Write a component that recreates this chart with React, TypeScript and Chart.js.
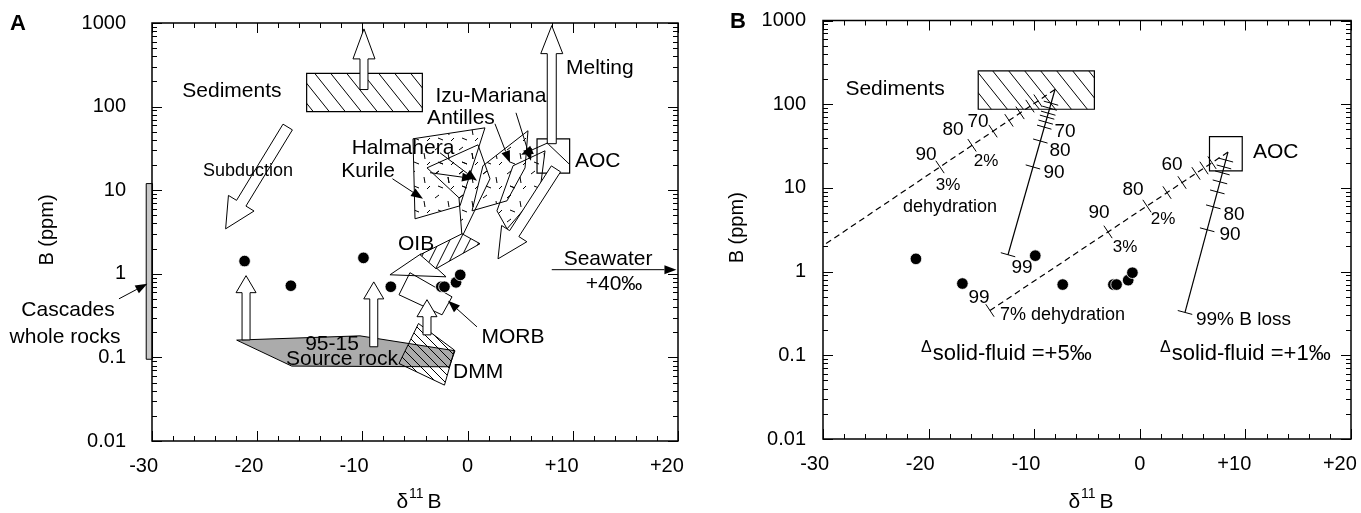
import React, { useEffect, useRef } from 'react';
import { Chart, registerables } from 'chart.js';

Chart.register(...registerables);

const FONT = '"Liberation Sans", Arial, Helvetica, sans-serif';

// ---------- axes ----------
const X_MIN = -30;
const X_MAX = 20;
const X_STEP = 2;
const xMajorTicks = [-30, -20, -10, 0, 10, 20];
// trailing spaces shift the signed labels left of their tick, as in the original
const xTickLabels = ['-30   ', '-20   ', '-10   ', '0', '+10    ', '+20    '];
const Y_MIN = 0.01;
const Y_MAX = 1000;
const yMajorTicks = [0.01, 0.1, 1, 10, 100, 1000];
const yTickLabels = ['0.01', '0.1', '1', '10', '100', '1000'];

// ---------- arc lavas (both panels) ----------
const sampleD11B = [-21.2, -16.8, -9.9, -7.3, -2.5, -2.2, -1.1, -0.7];
const sampleB = [1.42, 0.72, 1.55, 0.7, 0.7, 0.7, 0.79, 0.97];

// ---------- reservoirs ----------
const sedimentsX = [-15.3, -4.3];
const sedimentsY = [87, 250];
const aocX = [6.6, 9.7];
const aocY = [16, 41];
const cascadesX = [-30.55, -29.95];
const cascadesY = [0.095, 12];

// ---------- panel A fields ----------
const sourceRockX = [-21.95, -10.23, -1.2, -1.74, -16.72];
const sourceRockY = [0.161, 0.181, 0.12, 0.0772, 0.0787];
const dmmX = [-4.67, -1.25, -2.2, -6.52];
const dmmY = [0.2545, 0.1222, 0.0466, 0.0845];
const morbX = [-5.48, -1.48, -2.43, -6.52];
const morbY = [1.03, 0.53, 0.323, 0.561];
const oibX = [-4.52, -0.53, 1.18, -3.0];
const oibY = [1.69, 3.01, 2.29, 1.15];
const oibOutlineX = [-7.38, -4.43, -2.05];
const oibOutlineY = [0.973, 1.735, 0.92];
const kurileX = [-5.19, 1.65, -0.72, -5.0];
const kurileY = [41.2, 55.7, 6.51, 4.55];
const halmaheraX = [-3.86, 0.99, 2.13, -0.53, -0.82];
const halmaheraY = [18.5, 34.9, 13.7, 2.77, 8.11];
const antillesX = [1.46, 5.74, 5.46, 3.75, 0.42];
const antillesY = [19.6, 51.4, 18.5, 7.47, 5.67];
const izuX = [2.79, 4.32, 7.36, 6.88, 3.75];
const izuY = [5.67, 19.6, 29.6, 9.84, 3.45];
const aocLineX = [7.67, 9.67];
const aocLineY = [35.6, 20.5];

// open arrows [x0, y0, x1, y1]
const openArrowsA = [
  [-9.85, 160, -9.85, 850],
  [8.0, 36, 8.0, 930],
  [-17.1, 57, -23.0, 3.45],
  [8.4, 18, 2.89, 1.51],
  [-21.06, 0.162, -21.06, 0.95],
  [-8.92, 0.134, -8.92, 0.8],
  [-3.86, 0.186, -3.86, 0.49],
];
// [shaft width, head width, head length] in px
const openArrowShapeA = [
  [8, 22, 30],
  [9, 22, 28],
  [11, 30, 30],
  [11, 30, 30],
  [8, 20, 17],
  [8, 20, 17],
  [8, 20, 17],
];
// pointer arrows [x0, y0, x1, y1]
const pointerArrowsA = [
  [-7.14, 13.7, -4.24, 7.89],
  [-2.62, 28.0, 0.89, 13.0],
  [-3.57, 16.2, 0.61, 13.7],
  [2.6, 62.3, 4.03, 21.3],
  [4.6, 84.3, 6.03, 22.5],
  [7.64, 36.9, 5.08, 26.5],
  [0.89, 0.232, -1.86, 0.475],
  [-33.14, 0.502, -30.44, 0.76],
  [8.0, 1.12, 19.85, 1.12],
];
// labels [text, x, y, align]
const labelsA: [string, number, number, string][] = [
  ['Sediments', -22.4, 154.5, 'center'],
  ['Melting', 9.35, 291, 'left'],
  ['Izu-Mariana', 2.22, 134.6, 'center'],
  ['Antilles', -0.63, 73.5, 'center'],
  ['Halmahera', -6.14, 32.2, 'center'],
  ['Kurile', -9.47, 17.1, 'center'],
  ['AOC', 10.21, 22.5, 'left'],
  ['OIB', -4.9, 2.29, 'center'],
  ['Seawater', 13.35, 1.51, 'center'],
  ['+40‰', 13.92, 0.759, 'center'],
  ['MORB', 4.32, 0.176, 'center'],
  ['95-15', -12.89, 0.1455, 'center'],
  ['Source rock', -11.94, 0.0962, 'center'],
  ['DMM', -1.39, 0.0673, 'left'],
  ['Cascades', -37.98, 0.371, 'center'],
  ['whole rocks', -38.27, 0.176, 'center'],
];
const smallLabelsA: [string, number, number, string][] = [['Subduction', -20.87, 17.1, 'center']];

// ---------- panel B: Rayleigh loss curves ----------
const sedSolidX = [-8.03, -12.48];
const sedSolidY = [150, 1.59];
const sedSolidTickX = [-8.41, -8.54, -8.67, -8.78, -8.91, -9.05, -9.42, -10.12, -12.48];
const sedSolidTickY = [102.8, 89.6, 78.1, 70.0, 61.1, 53.2, 36.3, 17.8, 1.59];
const sedDashX = [-8.03, -30];
const sedDashY = [150, 2.04];
const sedDashTickX = [-9.64, -10.4, -11.34, -12.39, -13.9, -15.89, -18.92];
const sedDashTickY = [110, 94.9, 78.8, 64.1, 47.7, 32.3, 17.8];
const aocSolidX = [8.35, 4.28];
const aocSolidY = [26.8, 0.325];
const aocSolidTickX = [8.15, 7.97, 7.82, 7.59, 7.34, 6.96, 6.38, 4.28];
const aocSolidTickY = [21.5, 17.8, 15.1, 11.8, 8.96, 5.94, 3.16, 0.325];
const aocDashX = [8.35, -14.19];
const aocDashY = [26.8, 0.343];
const aocDashTickX = [6.84, 6.08, 5.32, 4.0, 2.58, 0.68, -3.01, -14.19];
const aocDashTickY = [20.0, 17.3, 14.9, 11.6, 8.79, 6.07, 2.98, 0.343];

const bigLabelsB: [string, number, number, string][] = [
  ['Sediments', -23.18, 151, 'center'],
  ['AOC', 10.72, 26.8, 'left'],
];
const numLabelsB: [string, number, number, string][] = [
  ['70', -15.32, 61.1, 'center'],
  ['80', -17.69, 49.0, 'center'],
  ['90', -20.25, 24.7, 'center'],
  ['70', -7.08, 46.4, 'center'],
  ['80', -7.56, 27.6, 'center'],
  ['90', -8.12, 15.1, 'center'],
  ['99', -11.16, 1.116, 'center'],
  ['60', 3.05, 18.8, 'center'],
  ['80', -0.64, 9.47, 'center'],
  ['90', -3.86, 5.04, 'center'],
  ['99', -15.23, 0.49, 'center'],
  ['80', 8.92, 4.77, 'center'],
  ['90', 8.54, 2.76, 'center'],
  ['99% B loss', 5.32, 0.268, 'left'],
];
const pctLabelsB: [string, number, number, string][] = [
  ['2%', -14.56, 20.96, 'center'],
  ['3%', -18.16, 10.86, 'center'],
  ['2%', 2.2, 4.16, 'center'],
  ['3%', -1.4, 1.93, 'center'],
];
const dehydLabelsB: [string, number, number, string][] = [
  ['dehydration', -17.97, 5.94, 'center'],
  ['7% dehydration', -13.24, 0.3, 'left'],
];
const deltaLabelsB: [string, number, number][] = [
  ['solid-fluid =+5‰', -20.72, 0.1056],
  ['solid-fluid =+1‰', 1.91, 0.1056],
];

// ---------- helpers ----------
type Pt = [number, number];
const toPx = (c: any, x: number, y: number): Pt => [
  c.scales.x.getPixelForValue(x),
  c.scales.y.getPixelForValue(y),
];

function pathPoly(ctx: CanvasRenderingContext2D, c: any, xs: number[], ys: number[], close = true) {
  ctx.beginPath();
  xs.forEach((x, i) => {
    const [a, b] = toPx(c, x, ys[i]);
    if (i === 0) ctx.moveTo(a, b);
    else ctx.lineTo(a, b);
  });
  if (close) ctx.closePath();
}

function poly(ctx: CanvasRenderingContext2D, c: any, xs: number[], ys: number[], fills: any[], lw = 1) {
  pathPoly(ctx, c, xs, ys);
  for (const f of fills) {
    ctx.fillStyle = f;
    ctx.fill();
  }
  ctx.lineWidth = lw;
  ctx.strokeStyle = '#000';
  ctx.stroke();
}

function box(ctx: CanvasRenderingContext2D, c: any, xr: number[], yr: number[], fills: any[], lw = 1.2) {
  poly(ctx, c, [xr[0], xr[1], xr[1], xr[0]], [yr[0], yr[0], yr[1], yr[1]], fills, lw);
}

function hatch(ctx: CanvasRenderingContext2D, w: number, h: number, lw: number, up = false) {
  const cv = document.createElement('canvas');
  cv.width = w;
  cv.height = h;
  const g = cv.getContext('2d')!;
  g.strokeStyle = '#000';
  g.lineWidth = lw;
  g.beginPath();
  for (const dx of [-w, 0, w]) {
    if (up) {
      g.moveTo(dx, h);
      g.lineTo(dx + w, 0);
    } else {
      g.moveTo(dx, 0);
      g.lineTo(dx + w, h);
    }
  }
  g.stroke();
  return ctx.createPattern(cv, 'repeat');
}

function dashes(ctx: CanvasRenderingContext2D) {
  const cv = document.createElement('canvas');
  cv.width = 24;
  cv.height = 24;
  const g = cv.getContext('2d')!;
  g.strokeStyle = '#000';
  g.lineWidth = 1;
  g.beginPath();
  g.moveTo(3, 6); g.lineTo(7, 3);
  g.moveTo(16, 9); g.lineTo(17, 15);
  g.moveTo(6, 18); g.lineTo(11, 20);
  g.moveTo(19, 21); g.lineTo(22, 18);
  g.stroke();
  return ctx.createPattern(cv, 'repeat');
}

function openArrow(ctx: CanvasRenderingContext2D, c: any, a: number[], shape: number[]) {
  const [ax, ay] = toPx(c, a[0], a[1]);
  const [bx, by] = toPx(c, a[2], a[3]);
  const [sw, hw, hl] = shape;
  const L = Math.hypot(bx - ax, by - ay);
  const ux = (bx - ax) / L;
  const uy = (by - ay) / L;
  const nx = -uy;
  const ny = ux;
  const kx = bx - ux * hl;
  const ky = by - uy * hl;
  const pts: Pt[] = [
    [ax + (nx * sw) / 2, ay + (ny * sw) / 2],
    [kx + (nx * sw) / 2, ky + (ny * sw) / 2],
    [kx + (nx * hw) / 2, ky + (ny * hw) / 2],
    [bx, by],
    [kx - (nx * hw) / 2, ky - (ny * hw) / 2],
    [kx - (nx * sw) / 2, ky - (ny * sw) / 2],
    [ax - (nx * sw) / 2, ay - (ny * sw) / 2],
  ];
  ctx.beginPath();
  pts.forEach((p, i) => (i ? ctx.lineTo(p[0], p[1]) : ctx.moveTo(p[0], p[1])));
  ctx.closePath();
  ctx.fillStyle = '#fff';
  ctx.fill();
  ctx.lineWidth = 1;
  ctx.strokeStyle = '#000';
  ctx.stroke();
}

function pointer(ctx: CanvasRenderingContext2D, c: any, a: number[]) {
  const [ax, ay] = toPx(c, a[0], a[1]);
  const [bx, by] = toPx(c, a[2], a[3]);
  const L = Math.hypot(bx - ax, by - ay);
  const ux = (bx - ax) / L;
  const uy = (by - ay) / L;
  const hl = 12;
  const hw = 4.5;
  const kx = bx - ux * hl;
  const ky = by - uy * hl;
  ctx.strokeStyle = '#000';
  ctx.lineWidth = 1;
  ctx.beginPath();
  ctx.moveTo(ax, ay);
  ctx.lineTo(kx, ky);
  ctx.stroke();
  ctx.beginPath();
  ctx.moveTo(bx, by);
  ctx.lineTo(kx - uy * hw, ky + ux * hw);
  ctx.lineTo(kx + uy * hw, ky - ux * hw);
  ctx.closePath();
  ctx.fillStyle = '#000';
  ctx.fill();
}

function curveTicks(ctx: CanvasRenderingContext2D, c: any, cx: number[], cy: number[], tx: number[], ty: number[], len: number) {
  const [ax, ay] = toPx(c, cx[0], cy[0]);
  const [bx, by] = toPx(c, cx[cx.length - 1], cy[cy.length - 1]);
  const L = Math.hypot(bx - ax, by - ay);
  const nx = -(by - ay) / L;
  const ny = (bx - ax) / L;
  ctx.strokeStyle = '#000';
  ctx.lineWidth = 1;
  ctx.beginPath();
  tx.forEach((x, i) => {
    const [px, py] = toPx(c, x, ty[i]);
    ctx.moveTo(px - (nx * len) / 2, py - (ny * len) / 2);
    ctx.lineTo(px + (nx * len) / 2, py + (ny * len) / 2);
  });
  ctx.stroke();
}

function labels(ctx: CanvasRenderingContext2D, c: any, list: [string, number, number, string][], size: number) {
  ctx.fillStyle = '#000';
  ctx.font = `${size}px ${FONT}`;
  ctx.textBaseline = 'middle';
  for (const [t, x, y, al] of list) {
    const [px, py] = toPx(c, x, y);
    ctx.textAlign = al as CanvasTextAlign;
    ctx.fillText(t, px, py);
  }
}

function isMajorX(v: number) {
  return xMajorTicks.some((m) => Math.abs(m - v) < 1e-6);
}

function frameAndTicks(c: any) {
  const ctx: CanvasRenderingContext2D = c.ctx;
  const { left, right, top, bottom } = c.chartArea;
  ctx.strokeStyle = '#000';
  ctx.lineWidth = 1;
  ctx.beginPath();
  for (const t of c.scales.x.ticks) {
    const v = t.value;
    const L = isMajorX(v) ? 10 : 5;
    const p = Math.round(c.scales.x.getPixelForValue(v)) + 0.5;
    ctx.moveTo(p, bottom);
    ctx.lineTo(p, bottom - L);
    ctx.moveTo(p, top);
    ctx.lineTo(p, top + L);
  }
  for (const t of c.scales.y.ticks) {
    const v = t.value;
    const e = Math.floor(Math.log10(v) + 1e-9);
    const s = v / Math.pow(10, e);
    if (Math.abs(s - Math.round(s)) > 1e-6) continue;
    const L = Math.abs(s - 1) < 1e-6 ? 10 : 5;
    const p = Math.round(c.scales.y.getPixelForValue(v)) + 0.5;
    ctx.moveTo(left, p);
    ctx.lineTo(left + L, p);
    ctx.moveTo(right, p);
    ctx.lineTo(right - L, p);
  }
  ctx.stroke();
  ctx.lineWidth = 1.5;
  ctx.strokeRect(left, top, right - left, bottom - top);
}

function titles(c: any, letter: string, letterX: number, letterY: number, yTitleX: number) {
  const ctx: CanvasRenderingContext2D = c.ctx;
  const { left, right, top, bottom } = c.chartArea;
  ctx.fillStyle = '#000';
  ctx.textBaseline = 'middle';
  ctx.textAlign = 'left';
  ctx.font = `bold 22px ${FONT}`;
  ctx.fillText(letter, letterX, letterY);
  // y title
  ctx.save();
  ctx.translate(yTitleX, (top + bottom) / 2 - 2);
  ctx.rotate(-Math.PI / 2);
  ctx.font = `20px ${FONT}`;
  ctx.textAlign = 'center';
  ctx.fillText('B (ppm)', 0, 0);
  ctx.restore();
  // x title: δ11B
  ctx.textBaseline = 'alphabetic';
  ctx.textAlign = 'left';
  const big = `21px ${FONT}`;
  const sm = `14px ${FONT}`;
  ctx.font = big;
  const wd = ctx.measureText('δ').width;
  const wb = ctx.measureText('B').width;
  ctx.font = sm;
  const ws = ctx.measureText('11').width;
  const gap = 4;
  const total = wd + 1 + ws + gap + wb;
  let x = (left + right) / 2 + 4 - total / 2;
  const base = 508;
  ctx.font = big;
  ctx.fillText('δ', x, base);
  x += wd + 1;
  ctx.font = sm;
  ctx.fillText('11', x, base - 10);
  x += ws + gap;
  ctx.font = big;
  ctx.fillText('B', x, base);
}

function makeChart(canvas: HTMLCanvasElement, area: { left: number; top: number; bottom: number; rightPad: number; yPad: number }, datasets: any[], before: (c: any) => void, after: (c: any) => void) {
  const H = canvas.height;
  return new Chart(canvas, {
    type: 'scatter',
    data: { datasets },
    options: {
      animation: false,
      responsive: false,
      maintainAspectRatio: false,
      events: [],
      layout: { autoPadding: false, padding: { left: 0, top: area.top, right: area.rightPad, bottom: 0 } },
      plugins: { legend: { display: false }, tooltip: { enabled: false } },
      scales: {
        x: {
          type: 'linear',
          position: 'bottom',
          min: X_MIN,
          max: X_MAX,
          afterFit: (s: any) => {
            s.height = H - area.bottom;
            s.paddingLeft = 0;
            s.paddingRight = 0;
          },
          grid: { display: false, drawTicks: false },
          border: { display: false },
          ticks: {
            stepSize: X_STEP,
            autoSkip: false,
            maxRotation: 0,
            minRotation: 0,
            padding: 13,
            color: '#000',
            font: { family: FONT, size: 20 },
            callback: (v: any) => {
              const i = xMajorTicks.findIndex((m) => Math.abs(m - Number(v)) < 1e-6);
              return i >= 0 ? xTickLabels[i] : '';
            },
          },
        },
        y: {
          type: 'logarithmic',
          position: 'left',
          min: Y_MIN,
          max: Y_MAX,
          afterFit: (s: any) => {
            s.width = area.left;
            s.paddingTop = 0;
            s.paddingBottom = 0;
          },
          grid: { display: false, drawTicks: false },
          border: { display: false },
          ticks: {
            autoSkip: false,
            padding: area.yPad,
            color: '#000',
            font: { family: FONT, size: 20 },
            callback: (v: any) => {
              const i = yMajorTicks.findIndex((m) => Math.abs(Math.log10(Number(v)) - Math.log10(m)) < 1e-6);
              return i >= 0 ? yTickLabels[i] : '';
            },
          },
        },
      },
    } as any,
    plugins: [
      {
        id: 'deco',
        beforeDatasetsDraw: (c: any) => {
          c.ctx.save();
          before(c);
          c.ctx.restore();
        },
        afterDatasetsDraw: (c: any) => {
          c.ctx.save();
          after(c);
          c.ctx.restore();
        },
      },
    ],
  });
}

const dotsDataset = () => ({
  type: 'scatter',
  data: sampleD11B.map((x, i) => ({ x, y: sampleB[i] })),
  pointRadius: 5.8,
  pointBackgroundColor: '#000',
  pointBorderColor: '#fff',
  pointBorderWidth: 0.8,
  order: 0,
});

const curveDataset = (xs: number[], ys: number[], dashed: boolean) => ({
  type: 'line',
  data: xs.map((x, i) => ({ x, y: ys[i] })),
  borderColor: '#000',
  borderWidth: 1.2,
  borderDash: dashed ? [6, 4] : [],
  pointRadius: 0,
  fill: false,
  tension: 0,
  order: 1,
});

function buildA(canvas: HTMLCanvasElement) {
  const before = (c: any) => {
    const ctx: CanvasRenderingContext2D = c.ctx;
    const sedHatch = hatch(ctx, 16, 20, 1);
    const dmmHatch = hatch(ctx, 9, 9, 1);
    const oibHatch = hatch(ctx, 10, 20, 1, true);
    const dash = dashes(ctx);
    box(ctx, c, sedimentsX, sedimentsY, ['#fff', sedHatch]);
    box(ctx, c, aocX, aocY, ['#fff']);
    pathPoly(ctx, c, aocLineX, aocLineY, false);
    ctx.lineWidth = 1;
    ctx.stroke();
    box(ctx, c, cascadesX, cascadesY, ['#c8c8c8'], 1);
    poly(ctx, c, sourceRockX, sourceRockY, ['#ababab']);
    poly(ctx, c, dmmX, dmmY, [dmmHatch]);
    poly(ctx, c, kurileX, kurileY, [dash]);
    poly(ctx, c, halmaheraX, halmaheraY, [dash]);
    poly(ctx, c, antillesX, antillesY, [dash]);
    poly(ctx, c, izuX, izuY, [dash]);
    poly(ctx, c, oibOutlineX, oibOutlineY, []);
    poly(ctx, c, oibX, oibY, ['#fff', oibHatch]);
    poly(ctx, c, morbX, morbY, []);
  };
  const after = (c: any) => {
    const ctx: CanvasRenderingContext2D = c.ctx;
    openArrowsA.forEach((a, i) => openArrow(ctx, c, a, openArrowShapeA[i]));
    pointerArrowsA.forEach((a) => pointer(ctx, c, a));
    labels(ctx, c, labelsA, 21);
    labels(ctx, c, smallLabelsA, 18);
    frameAndTicks(c);
    titles(c, 'A', 10, 24, 47);
  };
  return makeChart(canvas, { left: 152, top: 23, bottom: 441, rightPad: canvas.width - 678, yPad: 26 }, [dotsDataset()], before, after);
}

function buildB(canvas: HTMLCanvasElement) {
  const before = (c: any) => {
    const ctx: CanvasRenderingContext2D = c.ctx;
    const sedHatch = hatch(ctx, 16, 20, 1);
    box(ctx, c, sedimentsX, sedimentsY, ['#fff', sedHatch]);
    box(ctx, c, aocX, aocY, ['#fff']);
  };
  const after = (c: any) => {
    const ctx: CanvasRenderingContext2D = c.ctx;
    curveTicks(ctx, c, sedSolidX, sedSolidY, sedSolidTickX, sedSolidTickY, 15);
    curveTicks(ctx, c, sedDashX, sedDashY, sedDashTickX, sedDashTickY, 15);
    curveTicks(ctx, c, aocSolidX, aocSolidY, aocSolidTickX, aocSolidTickY, 15);
    curveTicks(ctx, c, aocDashX, aocDashY, aocDashTickX, aocDashTickY, 15);
    labels(ctx, c, bigLabelsB, 21);
    labels(ctx, c, numLabelsB, 19);
    labels(ctx, c, pctLabelsB, 17);
    labels(ctx, c, dehydLabelsB, 18);
    ctx.textAlign = 'left';
    ctx.textBaseline = 'middle';
    for (const [t, x, y] of deltaLabelsB) {
      const [px, py] = toPx(c, x, y);
      ctx.font = `16px ${FONT}`;
      ctx.fillText('Δ', px, py - 6);
      const w = ctx.measureText('Δ').width;
      ctx.font = `22px ${FONT}`;
      ctx.fillText(t, px + w + 1, py + 1);
    }
    frameAndTicks(c);
    titles(c, 'B', 50, 22, 57);
  };
  const datasets = [
    dotsDataset(),
    curveDataset(sedSolidX, sedSolidY, false),
    curveDataset(sedDashX, sedDashY, true),
    curveDataset(aocSolidX, aocSolidY, false),
    curveDataset(aocDashX, aocDashY, true),
  ];
  return makeChart(canvas, { left: 143, top: 20.5, bottom: 439, rightPad: canvas.width - 671, yPad: 17 }, datasets, before, after);
}

export default function App() {
  const refA = useRef<HTMLCanvasElement>(null);
  const refB = useRef<HTMLCanvasElement>(null);
  useEffect(() => {
    const a = buildA(refA.current!);
    const b = buildB(refB.current!);
    return () => {
      a.destroy();
      b.destroy();
    };
  }, []);
  return (
    <div style={{ position: 'fixed', left: 0, top: 0, width: 1361, height: 513, overflow: 'hidden', background: '#fff' }}>
      <canvas ref={refA} width={760} height={513} style={{ position: 'absolute', left: 0, top: 0 }} />
      <canvas ref={refB} width={720} height={513} style={{ position: 'absolute', left: 680, top: 0 }} />
    </div>
  );
}
